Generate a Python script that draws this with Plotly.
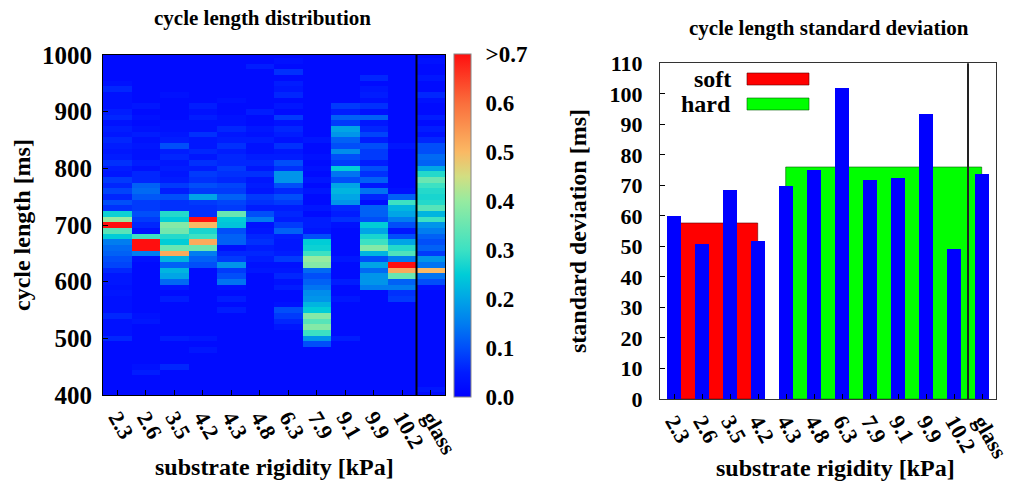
import plotly.graph_objects as go

# ---------------- data ----------------
rigidity_labels = ["2.3", "2.6", "3.5", "4.2", "4.3", "4.8", "6.3", "7.9", "9.1", "9.9", "10.2", "glass"]
# bin centres of the cycle-length histogram [ms], listed top (1000) to bottom (400)
cycle_length_bins = list(range(1000, 399, -10))

dist_2_3 = [0.02, 0.02, 0.02, 0.02, 0.02, 0.03, 0.06, 0.03, 0.03, 0.03,
            0.05, 0.06, 0.03, 0.05, 0.04, 0.06, 0.05, 0.04, 0.05, 0.07,
            0.05, 0.04, 0.08, 0.06, 0.09, 0.06, 0.10, 0.07, 0.26, 0.40,
            0.80, 0.33, 0.25, 0.15, 0.13, 0.12, 0.10, 0.09, 0.06, 0.04,
            0.04, 0.03, 0.04, 0.03, 0.03, 0.03, 0.06, 0.03, 0.03, 0.03,
            0.06, 0.02, 0.02, 0.02, 0.02, 0.02, 0.02, 0.02, 0.02, 0.02,
            0.02]
dist_2_6 = [0.02, 0.02, 0.02, 0.02, 0.02, 0.02, 0.02, 0.02, 0.02, 0.04,
            0.02, 0.03, 0.02, 0.03, 0.05, 0.03, 0.04, 0.03, 0.03, 0.05,
            0.03, 0.06, 0.06, 0.12, 0.13, 0.11, 0.08, 0.08, 0.10, 0.08,
            0.06, 0.03, 0.30, 0.80, 0.75, 0.15, 0.03, 0.02, 0.02, 0.02,
            0.02, 0.02, 0.02, 0.02, 0.02, 0.02, 0.03, 0.04, 0.02, 0.02,
            0.02, 0.02, 0.02, 0.02, 0.02, 0.03, 0.05, 0.02, 0.02, 0.02,
            0.02]
dist_3_5 = [0.02, 0.02, 0.02, 0.02, 0.02, 0.02, 0.02, 0.03, 0.02, 0.02,
            0.02, 0.02, 0.03, 0.03, 0.04, 0.05, 0.10, 0.05, 0.06, 0.04,
            0.05, 0.04, 0.05, 0.08, 0.05, 0.10, 0.07, 0.07, 0.28, 0.25,
            0.38, 0.36, 0.28, 0.25, 0.35, 0.52, 0.22, 0.12, 0.22, 0.20,
            0.13, 0.04, 0.02, 0.05, 0.02, 0.02, 0.02, 0.02, 0.02, 0.02,
            0.05, 0.02, 0.02, 0.02, 0.02, 0.06, 0.02, 0.02, 0.02, 0.02,
            0.02]
dist_4_2 = [0.02, 0.02, 0.02, 0.02, 0.02, 0.02, 0.02, 0.02, 0.02, 0.05,
            0.03, 0.05, 0.03, 0.03, 0.07, 0.04, 0.04, 0.06, 0.04, 0.07,
            0.05, 0.08, 0.07, 0.10, 0.08, 0.20, 0.08, 0.07, 0.07, 0.80,
            0.50, 0.27, 0.30, 0.52, 0.35, 0.15, 0.12, 0.10, 0.02, 0.02,
            0.02, 0.02, 0.02, 0.02, 0.02, 0.02, 0.02, 0.02, 0.02, 0.02,
            0.04, 0.02, 0.04, 0.02, 0.02, 0.02, 0.02, 0.02, 0.02, 0.02,
            0.02]
dist_4_3 = [0.02, 0.02, 0.02, 0.02, 0.02, 0.02, 0.02, 0.02, 0.03, 0.02,
            0.02, 0.03, 0.03, 0.06, 0.04, 0.05, 0.07, 0.05, 0.06, 0.06,
            0.08, 0.07, 0.06, 0.09, 0.08, 0.12, 0.09, 0.08, 0.35, 0.25,
            0.24, 0.10, 0.12, 0.12, 0.03, 0.06, 0.08, 0.18, 0.08, 0.10,
            0.14, 0.03, 0.02, 0.05, 0.02, 0.05, 0.02, 0.02, 0.02, 0.02,
            0.02, 0.02, 0.02, 0.02, 0.02, 0.02, 0.02, 0.02, 0.02, 0.02,
            0.02]
dist_4_8 = [0.02, 0.02, 0.05, 0.02, 0.02, 0.02, 0.02, 0.02, 0.02, 0.02,
            0.05, 0.02, 0.02, 0.04, 0.03, 0.05, 0.03, 0.03, 0.05, 0.06,
            0.04, 0.07, 0.04, 0.05, 0.04, 0.08, 0.07, 0.05, 0.10, 0.15,
            0.03, 0.04, 0.06, 0.07, 0.05, 0.06, 0.05, 0.03, 0.04, 0.02,
            0.02, 0.02, 0.02, 0.02, 0.02, 0.02, 0.02, 0.02, 0.02, 0.02,
            0.02, 0.02, 0.02, 0.02, 0.02, 0.02, 0.02, 0.02, 0.02, 0.02,
            0.02]
dist_6_3 = [0.02, 0.03, 0.02, 0.07, 0.02, 0.05, 0.04, 0.06, 0.02, 0.04,
            0.02, 0.08, 0.03, 0.06, 0.05, 0.03, 0.07, 0.04, 0.05, 0.10,
            0.07, 0.18, 0.18, 0.10, 0.06, 0.10, 0.08, 0.05, 0.06, 0.05,
            0.08, 0.12, 0.05, 0.04, 0.04, 0.05, 0.08, 0.03, 0.04, 0.06,
            0.03, 0.05, 0.02, 0.02, 0.03, 0.10, 0.08, 0.06, 0.04, 0.02,
            0.02, 0.02, 0.02, 0.02, 0.02, 0.02, 0.02, 0.02, 0.02, 0.02,
            0.02]
dist_7_9 = [0.02, 0.02, 0.02, 0.02, 0.02, 0.02, 0.02, 0.02, 0.02, 0.02,
            0.02, 0.02, 0.02, 0.02, 0.02, 0.04, 0.02, 0.02, 0.03, 0.02,
            0.03, 0.02, 0.04, 0.02, 0.04, 0.02, 0.02, 0.04, 0.02, 0.05,
            0.05, 0.04, 0.10, 0.25, 0.26, 0.30, 0.40, 0.38, 0.13, 0.10,
            0.12, 0.14, 0.17, 0.18, 0.22, 0.25, 0.38, 0.33, 0.38, 0.30,
            0.18, 0.10, 0.02, 0.02, 0.02, 0.02, 0.02, 0.02, 0.02, 0.02,
            0.02]
dist_9_1 = [0.02, 0.02, 0.02, 0.02, 0.02, 0.02, 0.02, 0.02, 0.02, 0.08,
            0.05, 0.12, 0.08, 0.20, 0.18, 0.12, 0.10, 0.17, 0.10, 0.08,
            0.25, 0.14, 0.10, 0.20, 0.22, 0.20, 0.18, 0.06, 0.05, 0.07,
            0.03, 0.02, 0.02, 0.02, 0.02, 0.02, 0.04, 0.02, 0.02, 0.02,
            0.05, 0.02, 0.02, 0.04, 0.02, 0.02, 0.02, 0.02, 0.02, 0.02,
            0.05, 0.02, 0.02, 0.02, 0.02, 0.02, 0.02, 0.02, 0.02, 0.02,
            0.02]
dist_9_9 = [0.02, 0.02, 0.02, 0.02, 0.06, 0.02, 0.04, 0.05, 0.03, 0.07,
            0.03, 0.12, 0.04, 0.06, 0.09, 0.05, 0.10, 0.08, 0.08, 0.05,
            0.10, 0.07, 0.12, 0.04, 0.14, 0.06, 0.02, 0.12, 0.12, 0.10,
            0.25, 0.20, 0.27, 0.30, 0.38, 0.22, 0.10, 0.20, 0.13, 0.18,
            0.18, 0.15, 0.02, 0.02, 0.02, 0.02, 0.02, 0.02, 0.02, 0.02,
            0.02, 0.02, 0.02, 0.02, 0.02, 0.02, 0.02, 0.02, 0.02, 0.02,
            0.02]
dist_10_2 = [0.02, 0.02, 0.02, 0.02, 0.02, 0.02, 0.02, 0.02, 0.02, 0.02,
             0.02, 0.02, 0.02, 0.02, 0.02, 0.02, 0.04, 0.02, 0.02, 0.02,
             0.02, 0.02, 0.02, 0.02, 0.03, 0.12, 0.30, 0.22, 0.20, 0.15,
             0.10, 0.04, 0.10, 0.20, 0.28, 0.32, 0.15, 0.80, 0.52, 0.35,
             0.12, 0.15, 0.07, 0.08, 0.02, 0.02, 0.02, 0.02, 0.02, 0.02,
             0.02, 0.02, 0.02, 0.02, 0.02, 0.02, 0.02, 0.02, 0.02, 0.02,
             0.02]
dist_glass = [0.02, 0.03, 0.02, 0.02, 0.04, 0.02, 0.02, 0.06, 0.03, 0.02,
              0.02, 0.05, 0.02, 0.05, 0.03, 0.06, 0.10, 0.10, 0.13, 0.12,
              0.20, 0.28, 0.35, 0.30, 0.28, 0.27, 0.28, 0.33, 0.22, 0.30,
              0.18, 0.15, 0.12, 0.10, 0.12, 0.08, 0.18, 0.14, 0.50, 0.14,
              0.10, 0.03, 0.02, 0.02, 0.02, 0.02, 0.02, 0.02, 0.02, 0.02,
              0.02, 0.02, 0.02, 0.02, 0.02, 0.02, 0.02, 0.02, 0.02, 0.04,
              0.02]

distribution_columns = [dist_2_3, dist_2_6, dist_3_5, dist_4_2, dist_4_3, dist_4_8,
                        dist_6_3, dist_7_9, dist_9_1, dist_9_9, dist_10_2, dist_glass]

std_dev_ms = [59.8, 50.8, 68.3, 51.6, 69.8, 74.9, 101.7, 71.8, 72.4, 93.3, 48.9, 73.7]
soft_mean_ms = 57.6
hard_mean_ms = 75.8
soft_span = (0, 3)    # category indices covered by the "soft" average
hard_span = (4, 11)   # category indices covered by the "hard" average
divider_after = 10    # glass separated from the gels after this index

colorbar_ticks = [0.0, 0.1, 0.2, 0.3, 0.4, 0.5, 0.6, 0.7]
colorbar_text = ["0.0", "0.1", "0.2", "0.3", "0.4", "0.5", "0.6", ">0.7"]

# ---------------- figure ----------------
W, H = 1011, 484
FONT = "Liberation Serif"


def px_x(p):
    return p / W


def px_y(p):
    return (H - p) / H


cat_idx = list(range(len(rigidity_labels)))
z_rows = [[col[r] for col in distribution_columns] for r in range(len(cycle_length_bins))]

jet_like = [
    [0.0, "rgb(0,0,255)"],
    [0.0714, "rgb(0,28,255)"],
    [0.1429, "rgb(0,78,250)"],
    [0.2143, "rgb(0,125,240)"],
    [0.2857, "rgb(0,165,230)"],
    [0.3571, "rgb(0,205,215)"],
    [0.4286, "rgb(60,225,195)"],
    [0.5714, "rgb(150,235,160)"],
    [0.6429, "rgb(210,222,130)"],
    [0.7143, "rgb(250,185,100)"],
    [0.8571, "rgb(250,110,60)"],
    [1.0, "rgb(255,15,15)"],
]

fig = go.Figure()

fig.add_trace(go.Heatmap(
    x=cat_idx, y=cycle_length_bins, z=z_rows,
    zmin=0, zmax=0.7, colorscale=jet_like, zsmooth=False,
    xaxis="x", yaxis="y",
    colorbar=dict(
        x=px_x(454), xanchor="left", xpad=0,
        y=px_y(225.5), yanchor="middle", ypad=0,
        len=343, lenmode="pixels",
        thickness=17, thicknessmode="pixels",
        outlinewidth=1, outlinecolor="#888888",
        tickvals=colorbar_ticks, ticktext=colorbar_text,
        ticks="outside", ticklen=10, tickcolor="rgba(0,0,0,0)",
        tickfont=dict(family=FONT, size=23, color="black", weight="bold"),
    ),
))

soft_mid = (soft_span[0] + soft_span[1]) / 2
hard_mid = (hard_span[0] + hard_span[1]) / 2
fig.add_trace(go.Bar(x=[soft_mid], y=[soft_mean_ms], width=[soft_span[1] - soft_span[0]],
                     marker=dict(color="rgb(255,0,0)", line=dict(width=0.6, color="#600000")),
                     xaxis="x2", yaxis="y2", name="soft", showlegend=False))
fig.add_trace(go.Bar(x=[hard_mid], y=[hard_mean_ms], width=[hard_span[1] - hard_span[0]],
                     marker=dict(color="rgb(0,255,0)", line=dict(width=0.6, color="#006000")),
                     xaxis="x2", yaxis="y2", name="hard", showlegend=False))
fig.add_trace(go.Bar(x=cat_idx, y=std_dev_ms, width=0.5,
                     marker=dict(color="rgb(0,0,255)", line=dict(width=0)),
                     xaxis="x2", yaxis="y2", showlegend=False))

yl_font = dict(family=FONT, size=25, color="black", weight="bold")
xt_font = dict(family=FONT, size=22, color="black", weight="bold")
yr_font = dict(family=FONT, size=22, color="black", weight="bold")
legend_font = dict(family=FONT, size=24, color="black", weight="bold")

fig.update_layout(
    width=W, height=H, template="none",
    margin=dict(l=0, r=0, t=0, b=0),
    paper_bgcolor="white", plot_bgcolor="white",
    barmode="overlay", bargap=0,
    font=dict(family=FONT, color="black"),
    xaxis=dict(domain=[px_x(103), px_x(445)], range=[-0.5, 11.5], anchor="y",
               tickvals=cat_idx, ticktext=rigidity_labels, tickangle=60,
               ticks="inside", ticklen=5, tickcolor="black", tickfont=xt_font,
               ticklabeloverflow="allow",
               showline=True, mirror=True, linecolor="black", linewidth=1,
               showgrid=False, zeroline=False, automargin=False),
    yaxis=dict(domain=[px_y(395), px_y(55)], range=[400, 1000], anchor="x",
               tickvals=[400, 500, 600, 700, 800, 900, 1000],
               ticks="inside", ticklen=5, tickcolor="black", tickfont=yl_font,
               ticklabelstandoff=5,
               showline=True, mirror=True, linecolor="black", linewidth=1,
               showgrid=False, zeroline=False, automargin=False),
    xaxis2=dict(domain=[px_x(660), px_x(996)], range=[-0.5, 11.5], anchor="y2",
                tickvals=cat_idx, ticktext=rigidity_labels, tickangle=60,
                ticks="inside", ticklen=5, tickcolor="black", tickfont=xt_font,
                ticklabeloverflow="allow",
                showline=True, mirror=True, linecolor="#333333", linewidth=1,
                showgrid=False, zeroline=False, automargin=False),
    yaxis2=dict(domain=[px_y(399), px_y(63.3)], range=[0, 110], anchor="x2",
                tickvals=list(range(0, 111, 10)),
                ticks="inside", ticklen=5, tickcolor="black", tickfont=yr_font,
                ticklabelstandoff=12,
                showline=True, mirror=True, linecolor="#333333", linewidth=1,
                showgrid=False, zeroline=False, automargin=False),
)

title_font = dict(family=FONT, size=21, color="black", weight="bold")
axis_font = dict(family=FONT, size=24, color="black", weight="bold")

annotations = [
    dict(text="cycle length distribution", x=px_x(262), y=px_y(18), font=title_font),
    dict(text="cycle length standard deviation", x=px_x(829), y=px_y(28), font=title_font),
    dict(text="substrate rigidity [kPa]", x=px_x(274), y=px_y(467), font=axis_font),
    dict(text="substrate rigidity [kPa]", x=px_x(835), y=px_y(468), font=axis_font),
    dict(text="cycle length [ms]", x=px_x(22), y=px_y(225), font=axis_font, textangle=-90),
    dict(text="standard deviation [ms]", x=px_x(578), y=px_y(231), font=axis_font, textangle=-90),
    dict(text="soft", x=px_x(733), y=px_y(79), xanchor="right", font=legend_font),
    dict(text="hard", x=px_x(733), y=px_y(104), xanchor="right", font=legend_font),
]
for a in annotations:
    a.setdefault("xanchor", "center")
    a.update(xref="paper", yref="paper", yanchor="middle", showarrow=False)
fig.update_layout(annotations=annotations)

shapes = [
    dict(type="line", xref="x", yref="paper", x0=divider_after + 0.5, x1=divider_after + 0.5,
         y0=px_y(395), y1=px_y(55), line=dict(color="black", width=2)),
    dict(type="line", xref="x2", yref="paper", x0=divider_after + 0.5, x1=divider_after + 0.5,
         y0=px_y(399), y1=px_y(63.3), line=dict(color="#222222", width=2)),
    dict(type="rect", xref="paper", yref="paper", x0=px_x(747), x1=px_x(809),
         y0=px_y(85), y1=px_y(73), fillcolor="rgb(255,0,0)", line=dict(color="#600000", width=0.6)),
    dict(type="rect", xref="paper", yref="paper", x0=px_x(747), x1=px_x(809),
         y0=px_y(110), y1=px_y(98), fillcolor="rgb(0,255,0)", line=dict(color="#006000", width=0.6)),
]
fig.update_layout(shapes=shapes)

fig.write_html("out.html",
               config={"displayModeBar": False},
               post_script="document.body.style.margin='0px';document.body.style.padding='0px';"
                           "document.body.style.overflow='hidden';")
